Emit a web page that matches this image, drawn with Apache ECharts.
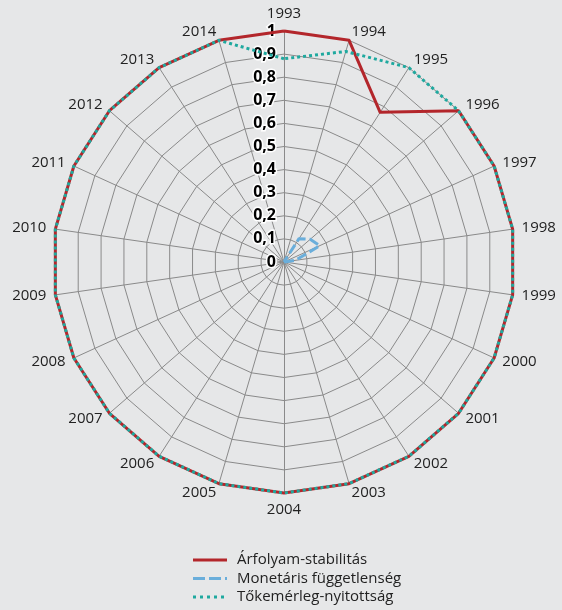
<!DOCTYPE html>
<html>
<head>
<meta charset="utf-8">
<script src="https://cdn.jsdelivr.net/npm/echarts@6/dist/echarts.min.js"></script>
<style>
  html, body { margin: 0; padding: 0; background: #e6e7e8; }
  #main { width: 562px; height: 610px; }
</style>
</head>
<body>
<div id="main"></div>
<script>
// évek (tengelyek), az óramutató járásával egyező sorrendben
var years = ["1993", "1994", "1995", "1996", "1997", "1998", "1999", "2000", "2001", "2002", "2003",
  "2004", "2005", "2006", "2007", "2008", "2009", "2010", "2011", "2012", "2013", "2014"];
var seriesNames = ["Árfolyam-stabilitás", "Monetáris függetlenség", "Tőkemérleg-nyitottság"];
var arfolyam = [1, 1, 0.77, 1, 1, 1, 1, 1, 1, 1, 1, 1, 1, 1, 1, 1, 1, 1, 1, 1, 1, 1];
var monetaris = [0, 0, 0.12, 0.15, 0.17, 0.05, 0, 0, 0, 0, 0, 0, 0, 0, 0, 0, 0, 0, 0, 0, 0, 0];
var tokemerleg = [0.88, 0.95, 1, 1, 1, 1, 1, 1, 1, 1, 1, 1, 1, 1, 1, 1, 1, 1, 1, 1, 1, 1];

var colors = ["#b3262b", "#6aaedb", "#1fa99f"];
var font = "'Open Sans', sans-serif";

// az ECharts radar az óramutatóval ellentétesen halad, ezért megfordítjuk a sorrendet
var order = [0];
for (var i = years.length - 1; i >= 1; i--) order.push(i);
function reorder(arr) { return order.map(function (k) { return arr[k]; }); }

var indicators = order.map(function (k, idx) {
  var ind = { name: years[k], min: 0, max: 1 };
  if (idx === 0) {
    ind.axisLabel = {
      show: true,
      color: "#000",
      fontSize: 16,
      fontWeight: "bold",
      fontFamily: font,
      textBorderColor: "#fff",
      textBorderWidth: 3,
      margin: 8,
      formatter: function (v) { return String(Math.round(v * 10) / 10).replace(".", ","); }
    };
  }
  return ind;
});

var myChart = echarts.init(document.getElementById("main"));
myChart.setOption({
  backgroundColor: "#e6e7e8",
  animation: false,
  radar: {
    center: [284, 262],
    radius: 231,
    startAngle: 90,
    shape: "polygon",
    splitNumber: 10,
    indicator: indicators,
    axisName: { color: "#222", fontSize: 15, fontFamily: font },
    nameGap: 9,
    axisLine: { lineStyle: { color: "#8a8a8a", width: 1 } },
    splitLine: { lineStyle: { color: "#8a8a8a", width: 1 } },
    splitArea: { show: false },
    axisTick: { show: false },
    axisLabel: { show: false }
  },
  series: [
    {
      type: "radar",
      symbol: "none",
      z: 2,
      data: [
        { name: seriesNames[0], value: reorder(arfolyam), lineStyle: { color: colors[0], width: 3, type: "solid" } }
      ]
    },
    {
      type: "radar",
      symbol: "none",
      z: 3,
      data: [
        { name: seriesNames[1], value: reorder(monetaris), lineStyle: { color: colors[1], width: 3, type: [10, 4] } }
      ]
    },
    {
      type: "radar",
      symbol: "none",
      z: 4,
      data: [
        { name: seriesNames[2], value: reorder(tokemerleg), lineStyle: { color: colors[2], width: 3, type: [3, 3] } }
      ]
    }
  ],
  // jelmagyarázat
  graphic: [0, 1, 2].map(function (i) {
    var y = 560 + i * 18.5;
    var dash = [null, [12, 4], [3, 4]][i];
    return {
      type: "group",
      children: [
        { type: "line", shape: { x1: 193, y1: y, x2: 227, y2: y },
          style: { stroke: colors[i], lineWidth: 3, lineDash: dash } },
        { type: "text", x: 237, y: y,
          style: { text: seriesNames[i], fill: "#222", font: "15px " + font, verticalAlign: "middle" } }
      ]
    };
  })
});
</script>
</body>
</html>
